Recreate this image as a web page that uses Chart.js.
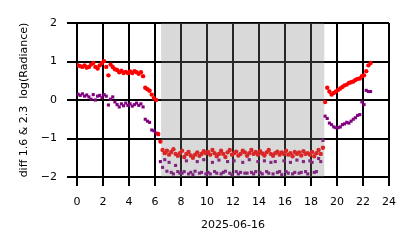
<!DOCTYPE html>
<html>
<head>
<meta charset="utf-8">
<script src="https://cdn.jsdelivr.net/npm/chart.js@4.4.1/dist/chart.umd.min.js"></script>
<style>
  html, body { margin: 0; padding: 0; background: #fff; }
  #wrap { width: 414px; height: 248px; }
</style>
</head>
<body>
<div id="wrap"><canvas id="chart" width="414" height="248"></canvas></div>
<script>
// === Data: sample times (minutes after midnight) and the two diff series ===
const timeMinutes = [
  5, 15, 25, 35, 45, 55,   65, 75, 85, 95, 105, 115,
  125, 135, 145, 155, 165, 175,   185, 195, 205, 215, 225, 235,
  245, 255, 265, 275, 285, 295,   305, 315, 325, 335, 345, 355,
  365, 375, 385, 395, 405, 415,   425, 435, 445, 455, 465, 475,
  485, 495, 505, 515, 525, 535,   545, 555, 565, 575, 585, 595,
  605, 615, 625, 635, 645, 655,   665, 675, 685, 695, 705, 715,
  725, 735, 745, 755, 765, 775,   785, 795, 805, 815, 825, 835,
  845, 855, 865, 875, 885, 895,   905, 915, 925, 935, 945, 955,
  965, 975, 985, 995, 1005, 1015,   1025, 1035, 1045, 1055, 1065, 1075,
  1085, 1095, 1105, 1115, 1125, 1135,   1145, 1155, 1165, 1175, 1185, 1195,
  1205, 1215, 1225, 1235, 1245, 1255,   1265, 1275, 1285, 1295, 1305, 1315,
  1325, 1335, 1345, 1355
];

// diff 1.6 (red)
const diff16 = [
  0.90, 0.88, 0.86, 0.90, 0.84, 0.86,   0.92, 0.96, 0.86, 0.82, 0.90, 0.96,
  1.01, 0.86, 0.64, 0.92, 0.86, 0.80,   0.78, 0.72, 0.76, 0.70, 0.73, 0.70,
  0.74, 0.70, 0.75, 0.72, 0.68, 0.72,   0.62, 0.32, 0.28, 0.24, 0.14, 0.05,
  0.00, -0.88, -1.08, -1.30, -1.38, -1.32,   -1.42, -1.35, -1.28, -1.40, -1.45, -1.38,
  -1.32, -1.48, -1.40, -1.35, -1.44, -1.50,   -1.42, -1.36, -1.45, -1.40, -1.33, -1.38,
  -1.35, -1.42, -1.30, -1.38, -1.46, -1.40,   -1.32, -1.40, -1.48, -1.36, -1.30, -1.42,
  -1.38, -1.34, -1.44, -1.40, -1.32, -1.36,   -1.45, -1.38, -1.30, -1.40, -1.35, -1.42,
  -1.33, -1.39, -1.44, -1.36, -1.30, -1.40,   -1.45, -1.38, -1.34, -1.42, -1.36, -1.40,
  -1.32, -1.42, -1.38, -1.46, -1.35, -1.40,   -1.36, -1.44, -1.33, -1.40, -1.38, -1.42,
  -1.35, -1.46, -1.38, -1.30, -1.40, -1.24,   -0.05, 0.32, 0.22, 0.14, 0.18, 0.22,
  0.26, 0.30, 0.34, 0.38, 0.40, 0.44,   0.46, 0.48, 0.52, 0.55, 0.56, 0.62,
  0.64, 0.75, 0.90, 0.96
];

// diff 2.3 (purple)
const diff23 = [
  0.15, 0.12, 0.16, 0.10, 0.13, 0.08,   0.02, 0.14, 0.00, 0.10, 0.12, 0.06,
  0.14, 0.10, -0.13, 0.02, 0.08, -0.05,   -0.12, -0.18, -0.10, -0.15, -0.08, -0.14,
  -0.10, -0.16, -0.12, -0.08, -0.14, -0.10,   -0.18, -0.50, -0.55, -0.58, -0.78, -0.80,
  -0.86, -0.90, -1.60, -1.75, -1.55, -1.85,   -1.62, -1.88, -1.92, -1.70, -1.86, -1.90,
  -1.90, -1.86, -1.58, -1.92, -1.88, -1.94,   -1.85, -1.60, -1.90, -1.88, -1.55, -1.92,
  -1.88, -1.92, -1.62, -1.86, -1.90, -1.56,   -1.92, -1.88, -1.85, -1.60, -1.90, -1.94,
  -1.58, -1.86, -1.92, -1.88, -1.62, -1.90,   -1.90, -1.55, -1.88, -1.92, -1.86, -1.60,
  -1.88, -1.92, -1.58, -1.86, -1.90, -1.62,   -1.92, -1.60, -1.88, -1.86, -1.94, -1.58,
  -1.86, -1.90, -1.62, -1.92, -1.88, -1.56,   -1.90, -1.88, -1.60, -1.86, -1.92, -1.58,
  -1.62, -1.88, -1.86, -1.52, -1.60, -1.05,   -0.42, -0.48, -0.60, -0.64, -0.70, -0.72,
  -0.72, -0.70, -0.64, -0.62, -0.58, -0.60,   -0.55, -0.50, -0.46, -0.40, -0.38, -0.05,
  -0.12, 0.25, 0.22, 0.22
];

const xTicks = [0, 2, 4, 6, 8, 10, 12, 14, 16, 18, 20, 22, 24];
const yTicks = [-2, -1, 0, 1, 2];
const nightSpan = [6.47, 19.02]; // shaded hours

const toPoints = (vals) => vals.map((v, i) => ({ x: timeMinutes[i] / 60, y: v }));

// === Shaded band drawn over the points (like a translucent axvspan) ===
const shadePlugin = {
  id: 'shade',
  afterDatasetsDraw(chart) {
    const { ctx, chartArea, scales } = chart;
    const x0 = scales.x.getPixelForValue(nightSpan[0]);
    const x1 = scales.x.getPixelForValue(nightSpan[1]);
    ctx.save();
    ctx.fillStyle = 'rgba(128,128,128,0.3)';
    ctx.fillRect(x0, chartArea.top, x1 - x0, chartArea.bottom - chartArea.top);
    ctx.restore();
  }
};

const fontFam = "'DejaVu Sans', sans-serif";
const minus = (v) => (v < 0 ? '\u2212' + Math.abs(v) : String(v));

new Chart(document.getElementById('chart'), {
  type: 'scatter',
  data: {
    datasets: [
      {
        label: 'diff 1.6',
        data: toPoints(diff16),
        backgroundColor: '#ff0000',
        borderWidth: 0,
        pointStyle: 'circle',
        pointRadius: 2.2,
        pointHoverRadius: 2.2
      },
      {
        label: 'diff 2.3',
        data: toPoints(diff23),
        backgroundColor: '#800080',
        borderWidth: 0,
        pointStyle: 'rect',
        pointRadius: 2.2,
        pointHoverRadius: 2.2
      }
    ]
  },
  options: {
    responsive: false,
    animation: false,
    events: [],
    layout: { padding: { top: 23, right: 25, bottom: 0, left: 0 } },
    plugins: { legend: { display: false }, tooltip: { enabled: false }, title: { display: false } },
    scales: {
      x: {
        type: 'linear',
        min: 0,
        max: 24,
        afterBuildTicks: (s) => { s.ticks = xTicks.map(v => ({ value: v })); },
        afterFit: (s) => { s.height = 71; },
        ticks: { color: '#000', padding: 10, font: { family: fontFam, size: 11 }, maxRotation: 0, callback: (v) => String(v) },
        grid: { color: '#000', lineWidth: 2, tickLength: 9, tickColor: '#000', tickWidth: 2 },
        border: { color: '#000', width: 2 },
        title: { display: true, text: '2025-06-16', color: '#000', font: { family: fontFam, size: 11 }, padding: { top: 0, bottom: 16.5 } }
      },
      y: {
        type: 'linear',
        min: -2,
        max: 2,
        afterBuildTicks: (s) => { s.ticks = yTicks.map(v => ({ value: v })); },
        afterFit: (s) => { s.width = 77; },
        ticks: { color: '#000', padding: 10, font: { family: fontFam, size: 11 }, callback: minus },
        grid: { color: '#000', lineWidth: 2, tickLength: 10, tickColor: '#000', tickWidth: 2 },
        border: { color: '#000', width: 2 },
        title: { display: true, text: 'diff 1.6 & 2.3  log(Radiance)', color: '#000', font: { family: fontFam, size: 11 }, padding: { top: 17.5, bottom: 0 } }
      }
    }
  },
  plugins: [shadePlugin]
});
</script>
</body>
</html>
